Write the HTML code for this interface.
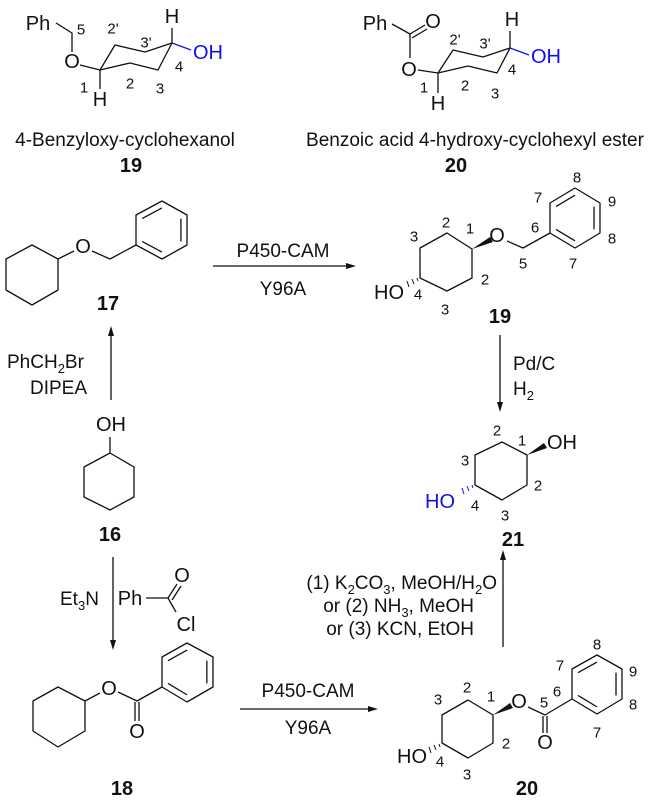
<!DOCTYPE html>
<html><head><meta charset="utf-8"><style>
html,body{margin:0;padding:0;background:#fff}
svg{display:block}
text{font-family:"Liberation Sans",Arial,sans-serif;fill:#111}
.l{font-size:15px;text-anchor:middle;dominant-baseline:central}
.a{font-size:20px;dominant-baseline:central}
.c{text-anchor:middle}
.e{text-anchor:end}
.t{font-size:19px}
.b{font-size:20px;font-weight:bold;text-anchor:middle}
.blue{fill:#1010ee}
</style></head><body>
<svg width="650" height="808" viewBox="0 0 650 808" xmlns="http://www.w3.org/2000/svg">
<g stroke="#111" stroke-width="1.3" fill="none" stroke-linejoin="round">
<polyline points="56,23 72,33 72,52"/>
<line x1="80" y1="65" x2="100" y2="70"/>
<polyline points="100,70 115,45 145,52 172,43"/>
<polyline points="100,70 130,63 158,70 172,43"/>
<line x1="172" y1="43" x2="172" y2="28"/>
<line x1="100" y1="70" x2="100" y2="89"/>
<line x1="392" y1="24" x2="410" y2="34"/>
<line x1="410" y1="34" x2="425" y2="25"/>
<line x1="412" y1="38" x2="427" y2="29"/>
<line x1="410" y1="34" x2="410" y2="58"/>
<line x1="418" y1="70" x2="438" y2="73"/>
<polyline points="438,73 453,50 483,57 510,48"/>
<polyline points="438,73 468,66 497,73 510,48"/>
<line x1="510" y1="48" x2="510" y2="31"/>
<line x1="438" y1="73" x2="438" y2="93"/>
<polygon points="32,245 58,259 58,290 32,305 6,290 6,259"/>
<line x1="58" y1="259" x2="74" y2="251"/>
<polyline points="92,251 110,259 136,245"/>
<polygon points="162,201 187,215 187,245 162,259 136,245 136,215"/>
<g transform="translate(161.7,230) scale(0.76) translate(-161.7,-230)">
<line x1="136" y1="215" x2="162" y2="201" vector-effect="non-scaling-stroke"/>
<line x1="187" y1="215" x2="187" y2="245" vector-effect="non-scaling-stroke"/>
<line x1="162" y1="259" x2="136" y2="245" vector-effect="non-scaling-stroke"/>
</g>
<line x1="213" y1="266" x2="350" y2="266"/>
<line x1="111" y1="400" x2="111" y2="334"/>
<line x1="500" y1="335" x2="500" y2="405"/>
<line x1="113" y1="557" x2="113" y2="643"/>
<line x1="240" y1="709" x2="372" y2="709"/>
<line x1="503" y1="647" x2="503" y2="557"/>
<line x1="110" y1="437" x2="110" y2="453"/>
<polygon points="110,453 134,467 134,497 110,510 84,497 84,467"/>
<line x1="146" y1="598" x2="168" y2="598"/>
<line x1="168" y1="598" x2="177" y2="584"/>
<line x1="172" y1="600" x2="181" y2="586"/>
<line x1="168" y1="598" x2="176" y2="612"/>
<polygon points="58,687 85,701 85,731 58,747 33,731 33,701"/>
<line x1="85" y1="701" x2="100" y2="693"/>
<polyline points="118,692 137,701 162,687"/>
<line x1="135" y1="702" x2="135" y2="721"/>
<line x1="139" y1="702" x2="139" y2="721"/>
<polygon points="162,657 187,643 213,657 213,687 187,702 162,687"/>
<g transform="translate(187.3,672.3) scale(0.76) translate(-187.3,-672.3)">
<line x1="162" y1="657" x2="187" y2="643" vector-effect="non-scaling-stroke"/>
<line x1="213" y1="657" x2="213" y2="687" vector-effect="non-scaling-stroke"/>
<line x1="187" y1="702" x2="162" y2="687" vector-effect="non-scaling-stroke"/>
</g>
<polygon points="447,233 472,249 472,278 447,291 420,278 420,248"/>
<polyline points="507,241 523,248 550,233"/>
<polygon points="550,233 550,203 575,188 600,203 600,233 575,248"/>
<g transform="translate(575,218) scale(0.76) translate(-575,-218)">
<line x1="550" y1="203" x2="575" y2="188" vector-effect="non-scaling-stroke"/>
<line x1="600" y1="203" x2="600" y2="233" vector-effect="non-scaling-stroke"/>
<line x1="575" y1="248" x2="550" y2="233" vector-effect="non-scaling-stroke"/>
</g>
<polygon points="502,442 527,455 527,485 502,500 475,485 475,455"/>
<polygon points="468,700 493,715 493,743 468,758 442,743 442,715"/>
<polyline points="528,707 545,715 572,699"/>
<line x1="543" y1="716" x2="543" y2="733"/>
<line x1="547" y1="716" x2="547" y2="733"/>
<polygon points="572,699 572,669 597,655 622,669 622,699 597,714"/>
<g transform="translate(597,684.3) scale(0.76) translate(-597,-684.3)">
<line x1="572" y1="669" x2="597" y2="655" vector-effect="non-scaling-stroke"/>
<line x1="622" y1="669" x2="622" y2="699" vector-effect="non-scaling-stroke"/>
<line x1="597" y1="714" x2="572" y2="699" vector-effect="non-scaling-stroke"/>
</g>
</g>
<line x1="172" y1="43" x2="191" y2="50" stroke="#1010ee" stroke-width="1.3"/>
<line x1="510" y1="48" x2="529" y2="55" stroke="#1010ee" stroke-width="1.3"/>
<g fill="#111">
<polygon points="356,266 346,263 346,269"/>
<polygon points="111,326 108,336 114,336"/>
<polygon points="500,412 497,402 503,402"/>
<polygon points="113,650 110,640 116,640"/>
<polygon points="378,709 368,706 368,712"/>
<polygon points="503,550 500,560 506,560"/>
<polygon points="472,249 490,237 493,242"/>
<polygon points="527,455 544,443 547,448"/>
<polygon points="493,715 510,703 513,708"/>
</g>
<g stroke="#111" stroke-width="1">
<line x1="417" y1="278" x2="418" y2="281"/><line x1="412" y1="279" x2="414" y2="284"/><line x1="407" y1="281" x2="409" y2="287"/>
<line x1="439" y1="744" x2="440" y2="747"/><line x1="434" y1="745" x2="436" y2="750"/><line x1="429" y1="747" x2="431" y2="753"/>
</g>
<g stroke="#1010ee" stroke-width="1">
<line x1="472" y1="485" x2="473" y2="488"/><line x1="467" y1="486" x2="469" y2="491"/><line x1="462" y1="488" x2="464" y2="494"/>
</g>
<!-- top 19 -->
<text x="38" y="24" class="a c">Ph</text>
<text x="72" y="62" class="a c">O</text>
<text x="172" y="17" class="a c">H</text>
<text x="100" y="100" class="a c">H</text>
<text x="193" y="53" class="a blue">OH</text>
<text x="81" y="30" class="l">5</text>
<text x="113" y="29" class="l">2'</text>
<text x="146" y="43" class="l">3'</text>
<text x="179" y="67" class="l">4</text>
<text x="84" y="88" class="l">1</text>
<text x="130" y="84" class="l">2</text>
<text x="160" y="89" class="l">3</text>
<text x="125" y="146" class="t c">4-Benzyloxy-cyclohexanol</text>
<text x="131" y="172" class="b">19</text>
<!-- top 20 -->
<text x="375" y="24" class="a c">Ph</text>
<text x="433" y="22" class="a c">O</text>
<text x="409" y="70" class="a c">O</text>
<text x="512" y="20" class="a c">H</text>
<text x="438" y="104" class="a c">H</text>
<text x="531" y="57" class="a blue">OH</text>
<text x="455" y="40" class="l">2'</text>
<text x="485" y="44" class="l">3'</text>
<text x="512" y="70" class="l">4</text>
<text x="424" y="88" class="l">1</text>
<text x="465" y="86" class="l">2</text>
<text x="495" y="94" class="l">3</text>
<text x="475" y="146" class="t c">Benzoic acid 4-hydroxy-cyclohexyl ester</text>
<text x="456" y="172" class="b">20</text>
<!-- 17 -->
<text x="83" y="247" class="a c">O</text>
<text x="108" y="310" class="b">17</text>
<text x="283" y="257" class="t c">P450-CAM</text>
<text x="283" y="295" class="t c">Y96A</text>
<text x="7" y="368" class="t">PhCH<tspan font-size="13" dy="5">2</tspan><tspan dy="-5">Br</tspan></text>
<text x="30" y="394" class="t">DIPEA</text>
<!-- 16 -->
<text x="111" y="425" class="a c">OH</text>
<text x="110" y="541" class="b">16</text>
<text x="60" y="605" class="t">Et<tspan font-size="13" dy="5">3</tspan><tspan dy="-5">N</tspan></text>
<text x="130" y="599" class="a c">Ph</text>
<text x="182" y="576" class="a c">O</text>
<text x="186" y="625" class="a c">Cl</text>
<!-- 18 -->
<text x="109" y="689" class="a c">O</text>
<text x="137" y="732" class="a c">O</text>
<text x="122" y="795" class="b">18</text>
<text x="308" y="697" class="t c">P450-CAM</text>
<text x="308" y="734" class="t c">Y96A</text>
<!-- 19 right -->
<text x="497" y="236" class="a c">O</text>
<text x="404" y="293" class="a e">HO</text>
<text x="446" y="223" class="l">2</text>
<text x="414" y="237" class="l">3</text>
<text x="470" y="229" class="l">1</text>
<text x="485" y="280" class="l">2</text>
<text x="445" y="310" class="l">3</text>
<text x="418" y="295" class="l">4</text>
<text x="523" y="264" class="l">5</text>
<text x="535" y="228" class="l">6</text>
<text x="538" y="198" class="l">7</text>
<text x="573" y="264" class="l">7</text>
<text x="577" y="178" class="l">8</text>
<text x="612" y="202" class="l">9</text>
<text x="612" y="239" class="l">8</text>
<text x="500" y="323" class="b">19</text>
<text x="513" y="370" class="t">Pd/C</text>
<text x="513" y="395" class="t">H<tspan font-size="13" dy="5">2</tspan></text>
<!-- 21 -->
<text x="547" y="443" class="a">OH</text>
<text x="455" y="502" class="a e blue">HO</text>
<text x="497" y="431" class="l">2</text>
<text x="522" y="441" class="l">1</text>
<text x="465" y="461" class="l">3</text>
<text x="538" y="486" class="l">2</text>
<text x="475" y="506" class="l">4</text>
<text x="505" y="516" class="l">3</text>
<text x="513" y="546" class="b">21</text>
<text x="497" y="589" class="t e">(1) K<tspan font-size="13" dy="5">2</tspan><tspan dy="-5">CO</tspan><tspan font-size="13" dy="5">3</tspan><tspan dy="-5">, MeOH/H</tspan><tspan font-size="13" dy="5">2</tspan><tspan dy="-5">O</tspan></text>
<text x="474" y="612" class="t e">or (2) NH<tspan font-size="13" dy="5">3</tspan><tspan dy="-5">, MeOH</tspan></text>
<text x="474" y="635" class="t e">or (3) KCN, EtOH</text>
<!-- 20 bottom -->
<text x="519" y="702" class="a c">O</text>
<text x="545" y="743" class="a c">O</text>
<text x="427" y="757" class="a e">HO</text>
<text x="467" y="688" class="l">2</text>
<text x="438" y="700" class="l">3</text>
<text x="491" y="697" class="l">1</text>
<text x="506" y="744" class="l">2</text>
<text x="440" y="762" class="l">4</text>
<text x="467" y="775" class="l">3</text>
<text x="544" y="703" class="l">5</text>
<text x="557" y="692" class="l">6</text>
<text x="560" y="666" class="l">7</text>
<text x="597" y="733" class="l">7</text>
<text x="597" y="645" class="l">8</text>
<text x="633" y="672" class="l">9</text>
<text x="633" y="705" class="l">8</text>
<text x="527" y="795" class="b">20</text>
</svg>
</body></html>
